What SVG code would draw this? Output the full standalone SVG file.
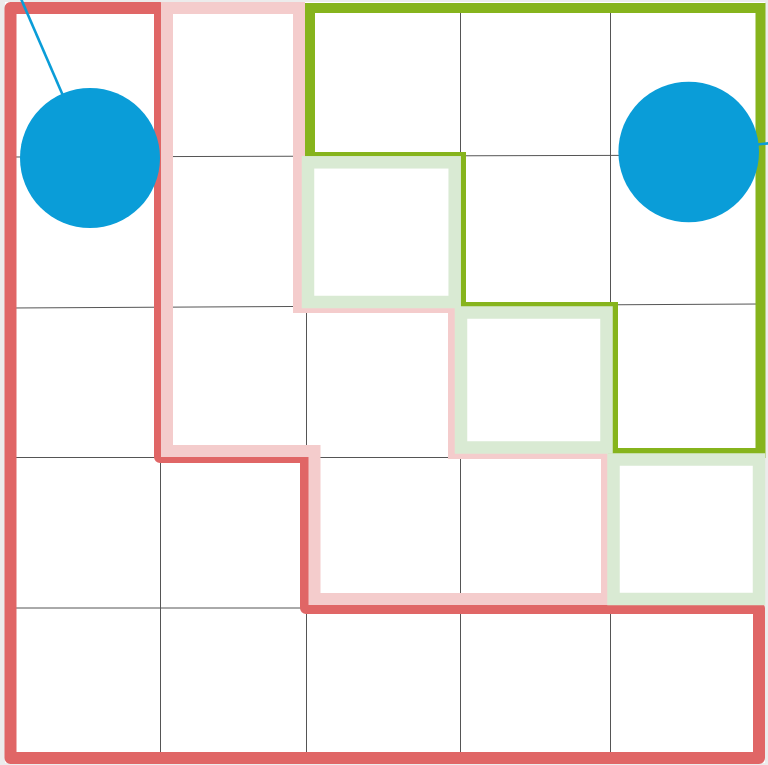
<svg xmlns="http://www.w3.org/2000/svg" width="768" height="765" viewBox="0 0 768 765">
<defs>
<style>
.grid{stroke:#555555;stroke-width:1;fill:none}
.red{fill:none;stroke:#e06666;stroke-width:12;stroke-linejoin:round}
.pink{fill:none;stroke:#f4cccc;stroke-width:12;stroke-linejoin:miter}
.dgreen{fill:none;stroke:#86b41c;stroke-width:10;stroke-linejoin:miter}
.lgreen{fill:none;stroke:#d9ead3;stroke-width:12.5}
.node{fill:#0a9dd8}
.conn{stroke:#0a9dd8;stroke-width:2.6;fill:none}
</style>
</defs>
<rect x="0" y="0" width="768" height="765" fill="#ececec"/>
<rect x="5" y="2" width="760" height="761" fill="#ffffff"/>
<g id="grid">
<line class="grid" x1="10" y1="157" x2="760" y2="155"/>
<line class="grid" x1="10" y1="308" x2="760" y2="304"/>
<line class="grid" x1="10" y1="457.5" x2="760" y2="457.5"/>
<line class="grid" x1="10" y1="608" x2="760" y2="608"/>
<line class="grid" x1="160.5" y1="8" x2="160.5" y2="758"/>
<line class="grid" x1="306.5" y1="8" x2="306.5" y2="758"/>
<line class="grid" x1="460.5" y1="8" x2="460.5" y2="758"/>
<line class="grid" x1="610.5" y1="8" x2="610.5" y2="758"/>
</g>
<g id="regions">
<path class="red" d="M10.5,8 H160 V457 H306 V608 H759 V758 H10.5 Z"/>
<path class="pink" d="M167,8 H299 V307 H454 V453 H607 V599 H314.5 V451 H167 Z"/>
<path class="dgreen" d="M310,8 H760.5 V453 H613 V307 H461 V157 H310 Z"/>
<rect class="lgreen" x="308" y="162.3" width="146.7" height="139.7"/>
<rect class="lgreen" x="461" y="312.5" width="145.5" height="135"/>
<rect class="lgreen" x="613.5" y="459.5" width="145.5" height="139.5"/>
</g>
<g id="connectors">
<line class="conn" x1="90" y1="158" x2="12" y2="-22"/>
<line class="conn" x1="689" y1="152" x2="780" y2="142"/>
</g>
<g id="node1">
<circle class="node" cx="90" cy="158" r="70"/>
</g>
<g id="node2">
<circle class="node" cx="688.7" cy="152" r="70.3"/>
</g>
</svg>
